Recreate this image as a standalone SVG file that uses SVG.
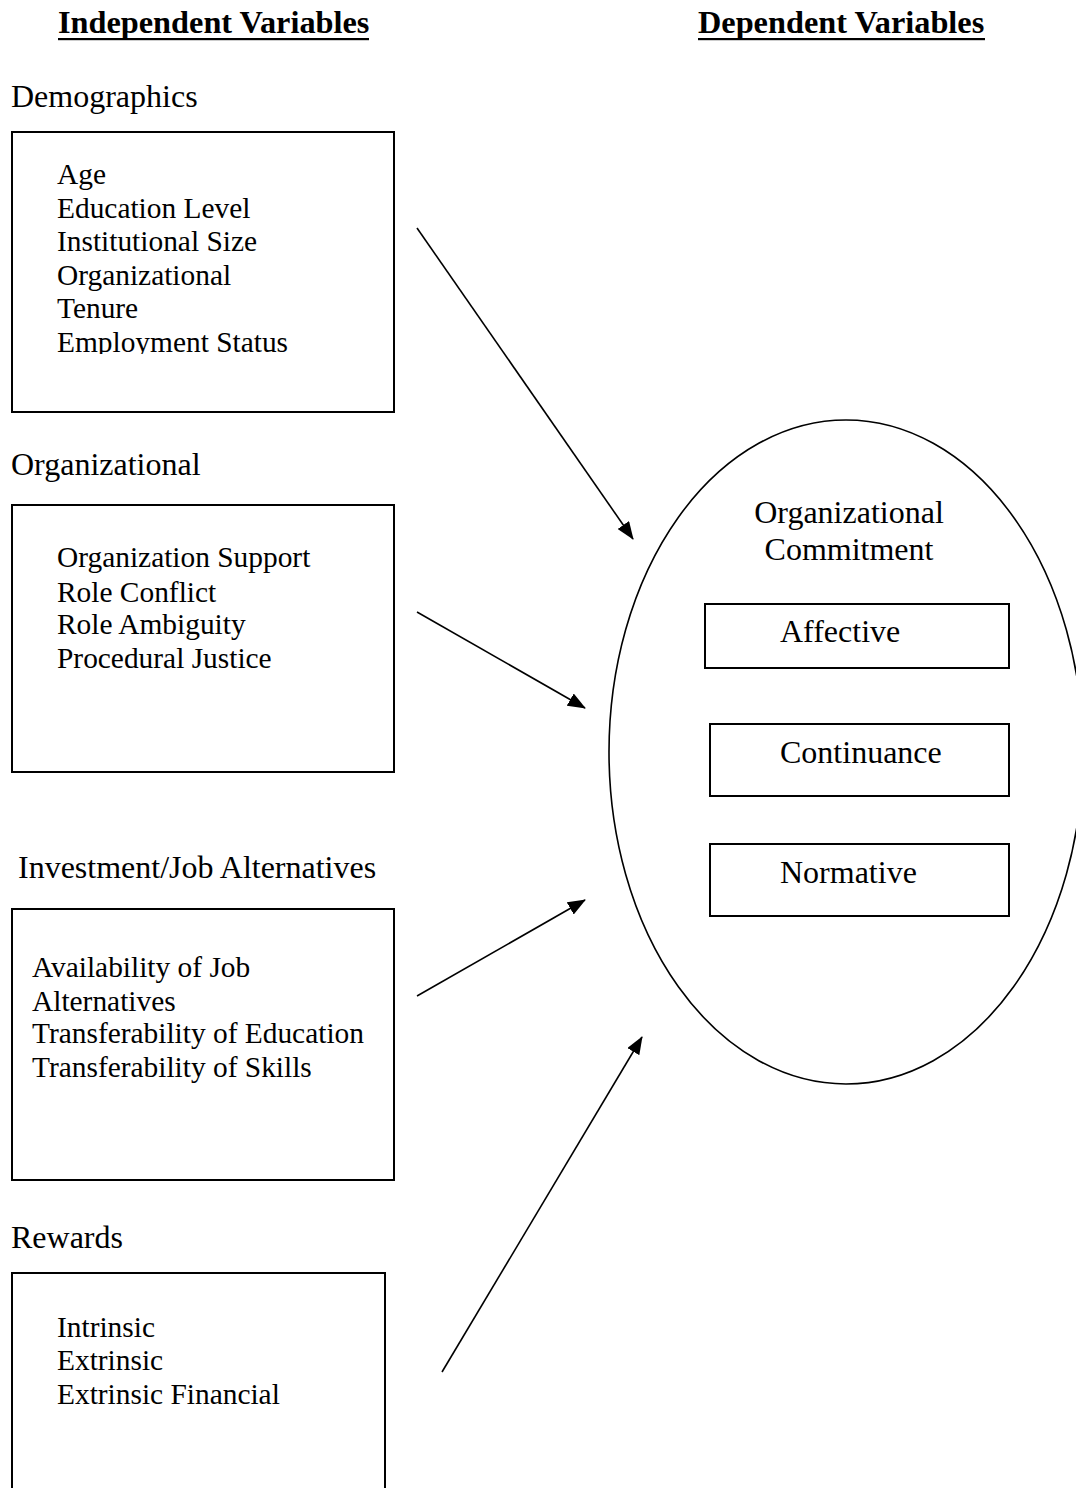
<svg xmlns="http://www.w3.org/2000/svg" width="1076" height="1488" viewBox="0 0 1076 1488">
<style>
  text { font-family: "Liberation Serif", "Times New Roman", serif; fill: #000; }
  .title { font-size: 32.3px; font-weight: bold; }
  .head { font-size: 32px; }
  .item { font-size: 29.4px; }
  .big { font-size: 32px; }
  .box { fill: none; stroke: #000; stroke-width: 2; }
  .ell { fill: none; stroke: #000; stroke-width: 1.6; }
  .conn line { stroke: #000; stroke-width: 1.6; marker-end: url(#arrow); }
</style>
<defs>
  <marker id="arrow" viewBox="0 0 18 14" refX="17" refY="7" markerUnits="userSpaceOnUse" markerWidth="18" markerHeight="14" orient="auto">
    <path d="M0,0 L18,7 L0,14 z" fill="#000"/>
  </marker>
  <clipPath id="clipDemo">
    <rect x="0" y="0" width="1076" height="354"/>
  </clipPath>
</defs>
<rect width="1076" height="1488" fill="#fff"/>

<g id="titles">
  <text class="title" x="58" y="33">Independent Variables</text>
  <rect x="58" y="38" width="311" height="2.2" fill="#000"/>
  <text class="title" x="698" y="33">Dependent Variables</text>
  <rect x="698" y="38" width="287" height="2.2" fill="#000"/>
</g>

<g id="demographics">
  <text class="head" x="11" y="107">Demographics</text>
  <rect class="box" x="12" y="132" width="382" height="280"/>
  <g clip-path="url(#clipDemo)">
    <text class="item" x="57" y="184">Age</text>
    <text class="item" x="57" y="218">Education Level</text>
    <text class="item" x="57" y="251">Institutional Size</text>
    <text class="item" x="57" y="285">Organizational</text>
    <text class="item" x="57" y="318">Tenure</text>
    <text class="item" x="57" y="352">Employment Status</text>
  </g>
</g>

<g id="organizational">
  <text class="head" x="11" y="475">Organizational</text>
  <rect class="box" x="12" y="505" width="382" height="267"/>
  <text class="item" x="57" y="567">Organization Support</text>
  <text class="item" x="57" y="602">Role Conflict</text>
  <text class="item" x="57" y="634">Role Ambiguity</text>
  <text class="item" x="57" y="668">Procedural Justice</text>
</g>

<g id="investment">
  <text class="head" x="18" y="878">Investment/Job Alternatives</text>
  <rect class="box" x="12" y="909" width="382" height="271"/>
  <text class="item" x="32" y="977">Availability of Job</text>
  <text class="item" x="32" y="1011">Alternatives</text>
  <text class="item" x="32" y="1043">Transferability of Education</text>
  <text class="item" x="32" y="1077">Transferability of Skills</text>
</g>

<g id="rewards">
  <text class="head" x="11" y="1248">Rewards</text>
  <path class="box" d="M12,1500 L12,1273 L385,1273 L385,1500"/>
  <text class="item" x="57" y="1337">Intrinsic</text>
  <text class="item" x="57" y="1370">Extrinsic</text>
  <text class="item" x="57" y="1404">Extrinsic Financial</text>
</g>

<g id="commitment">
  <ellipse class="ell" cx="846" cy="752" rx="237" ry="332"/>
  <text class="big" x="849" y="523" text-anchor="middle">Organizational</text>
  <text class="big" x="849" y="560" text-anchor="middle">Commitment</text>
</g>

<g id="affective">
  <rect class="box" x="705" y="604" width="304" height="64"/>
  <text class="big" x="780" y="642">Affective</text>
</g>

<g id="continuance">
  <rect class="box" x="710" y="724" width="299" height="72"/>
  <text class="big" x="780" y="763">Continuance</text>
</g>

<g id="normative">
  <rect class="box" x="710" y="844" width="299" height="72"/>
  <text class="big" x="780" y="883">Normative</text>
</g>

<g id="connectors" class="conn">
  <line x1="417" y1="228" x2="633" y2="539"/>
  <line x1="417" y1="612" x2="585" y2="708"/>
  <line x1="417" y1="996" x2="585" y2="900"/>
  <line x1="442" y1="1372" x2="642" y2="1037"/>
</g>
</svg>
